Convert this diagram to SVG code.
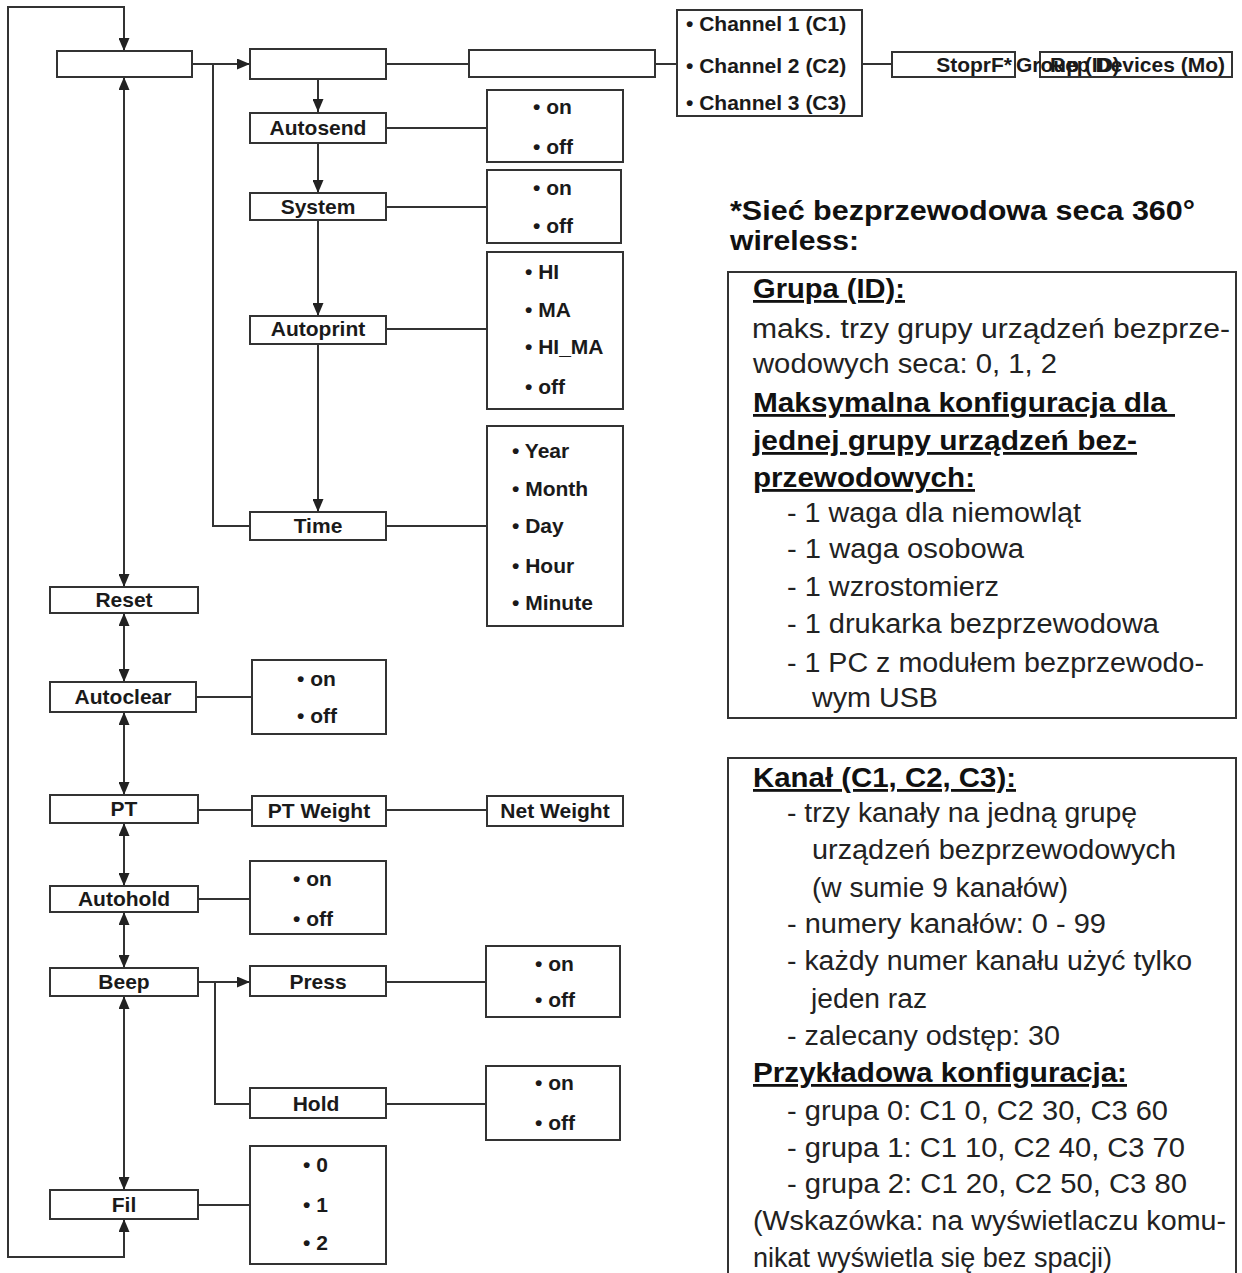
<svg xmlns="http://www.w3.org/2000/svg" width="1242" height="1273" viewBox="0 0 1242 1273">
<defs>
<marker id="ah" viewBox="0 0 13 11" refX="13" refY="5.5" markerWidth="13" markerHeight="11" markerUnits="userSpaceOnUse" orient="auto-start-reverse">
<path d="M0,0 L13,5.5 L0,11 z" fill="#222"/>
</marker>
<style>
.bx{fill:#fff;stroke:#333;stroke-width:2}
.ln{fill:none;stroke:#333;stroke-width:2}
.t{font-family:"Liberation Sans",Arial,sans-serif;font-weight:bold;font-size:21px;fill:#1a1a1a}
.m{text-anchor:middle}
.b{font-family:"Liberation Sans",Arial,sans-serif;font-size:27px;fill:#222}
.h{font-family:"Liberation Sans",Arial,sans-serif;font-weight:bold;font-size:28px;fill:#111}
.u{text-decoration:underline}
</style>
</defs>
<rect width="1242" height="1273" fill="#fff"/>

<g id="connectors">
<path class="ln" d="M124,1219 L124,1257 L8,1257 L8,7 L124,7 L124,51" marker-start="url(#ah)" marker-end="url(#ah)"/>
<path class="ln" d="M124,77 L124,587" marker-start="url(#ah)" marker-end="url(#ah)"/>
<path class="ln" d="M124,613 L124,682" marker-start="url(#ah)" marker-end="url(#ah)"/>
<path class="ln" d="M124,712 L124,795" marker-start="url(#ah)" marker-end="url(#ah)"/>
<path class="ln" d="M124,823 L124,886" marker-start="url(#ah)" marker-end="url(#ah)"/>
<path class="ln" d="M124,912 L124,968" marker-start="url(#ah)" marker-end="url(#ah)"/>
<path class="ln" d="M124,996 L124,1190" marker-start="url(#ah)" marker-end="url(#ah)"/>
<path class="ln" d="M192,64 L250,64" marker-end="url(#ah)"/>
<path class="ln" d="M213,64 L213,526 L250,526"/>
<path class="ln" d="M318,79 L318,112" marker-end="url(#ah)"/>
<path class="ln" d="M318,143 L318,193" marker-end="url(#ah)"/>
<path class="ln" d="M318,220 L318,316" marker-end="url(#ah)"/>
<path class="ln" d="M318,344 L318,512" marker-end="url(#ah)"/>
<path class="ln" d="M386,128 L487,128"/>
<path class="ln" d="M386,207 L487,207"/>
<path class="ln" d="M386,329 L487,329"/>
<path class="ln" d="M386,526 L487,526"/>
<path class="ln" d="M386,64 L469,64"/>
<path class="ln" d="M655,64 L677,64"/>
<path class="ln" d="M862,64 L892,64"/>
<path class="ln" d="M196,697 L252,697"/>
<path class="ln" d="M198,810 L252,810"/>
<path class="ln" d="M386,810 L487,810"/>
<path class="ln" d="M198,899 L250,899"/>
<path class="ln" d="M198,982 L250,982" marker-end="url(#ah)"/>
<path class="ln" d="M215,982 L215,1104 L250,1104"/>
<path class="ln" d="M386,982 L486,982"/>
<path class="ln" d="M386,1104 L486,1104"/>
<path class="ln" d="M198,1205 L250,1205"/>
</g>

<g id="n-root"><rect class="bx" x="57" y="51" width="135" height="26"/></g>
<g id="n-sub"><rect class="bx" x="250" y="49" width="136" height="30"/></g>
<g id="n-box3"><rect class="bx" x="469" y="50" width="186" height="27"/></g>
<g id="n-channels"><rect class="bx" x="677" y="10" width="185" height="106"/>
<text class="t" x="686" y="31">• Channel 1 (C1)</text>
<text class="t" x="686" y="73">• Channel 2 (C2)</text>
<text class="t" x="686" y="110">• Channel 3 (C3)</text></g>
<g id="n-stoprf"><rect class="bx" x="892" y="52" width="123" height="25"/>
<text class="t" x="1012" y="72" text-anchor="end" font-size="20">StoprF*</text></g>
<g id="n-group"><rect class="bx" x="1040" y="52" width="192" height="25"/>
<text class="t" x="1016" y="72" font-size="20">Group (ID)<tspan x="1050">Rep Devices (Mo)</tspan></text></g>

<g id="n-autosend"><rect class="bx" x="250" y="113" width="136" height="30"/><text class="t m" x="318" y="135">Autosend</text></g>
<g id="o-autosend"><rect class="bx" x="487" y="90" width="136" height="72"/>
<text class="t" x="533" y="114">• on</text><text class="t" x="533" y="154">• off</text></g>
<g id="n-system"><rect class="bx" x="250" y="193" width="136" height="27"/><text class="t m" x="318" y="214">System</text></g>
<g id="o-system"><rect class="bx" x="487" y="170" width="134" height="73"/>
<text class="t" x="533" y="195">• on</text><text class="t" x="533" y="233">• off</text></g>
<g id="n-autoprint"><rect class="bx" x="250" y="316" width="136" height="28"/><text class="t m" x="318" y="336">Autoprint</text></g>
<g id="o-autoprint"><rect class="bx" x="487" y="252" width="136" height="157"/>
<text class="t" x="525" y="279">• HI</text><text class="t" x="525" y="317">• MA</text>
<text class="t" x="525" y="354">• HI_MA</text><text class="t" x="525" y="394">• off</text></g>
<g id="n-time"><rect class="bx" x="250" y="512" width="136" height="28"/><text class="t m" x="318" y="533">Time</text></g>
<g id="o-time"><rect class="bx" x="487" y="426" width="136" height="200"/>
<text class="t" x="512" y="458">• Year</text><text class="t" x="512" y="496">• Month</text>
<text class="t" x="512" y="533">• Day</text><text class="t" x="512" y="573">• Hour</text>
<text class="t" x="512" y="610">• Minute</text></g>

<g id="n-reset"><rect class="bx" x="50" y="587" width="148" height="26"/><text class="t m" x="124" y="607">Reset</text></g>
<g id="n-autoclear"><rect class="bx" x="50" y="682" width="146" height="30"/><text class="t m" x="123" y="704">Autoclear</text></g>
<g id="o-autoclear"><rect class="bx" x="252" y="660" width="134" height="74"/>
<text class="t" x="297" y="686">• on</text><text class="t" x="297" y="723">• off</text></g>
<g id="n-pt"><rect class="bx" x="50" y="795" width="148" height="28"/><text class="t m" x="124" y="816">PT</text></g>
<g id="n-ptweight"><rect class="bx" x="252" y="796" width="134" height="30"/><text class="t m" x="319" y="818">PT Weight</text></g>
<g id="n-netweight"><rect class="bx" x="487" y="796" width="136" height="30"/><text class="t m" x="555" y="818">Net Weight</text></g>
<g id="n-autohold"><rect class="bx" x="50" y="886" width="148" height="26"/><text class="t m" x="124" y="906">Autohold</text></g>
<g id="o-autohold"><rect class="bx" x="250" y="861" width="136" height="73"/>
<text class="t" x="293" y="886">• on</text><text class="t" x="293" y="926">• off</text></g>
<g id="n-beep"><rect class="bx" x="50" y="968" width="148" height="28"/><text class="t m" x="124" y="989">Beep</text></g>
<g id="n-press"><rect class="bx" x="250" y="966" width="136" height="30"/><text class="t m" x="318" y="989">Press</text></g>
<g id="o-press"><rect class="bx" x="486" y="946" width="134" height="71"/>
<text class="t" x="535" y="971">• on</text><text class="t" x="535" y="1007">• off</text></g>
<g id="n-hold"><rect class="bx" x="250" y="1088" width="136" height="30"/><text class="t m" x="316" y="1111">Hold</text></g>
<g id="o-hold"><rect class="bx" x="486" y="1066" width="134" height="74"/>
<text class="t" x="535" y="1090">• on</text><text class="t" x="535" y="1130">• off</text></g>
<g id="n-fil"><rect class="bx" x="50" y="1190" width="148" height="29"/><text class="t m" x="124" y="1212">Fil</text></g>
<g id="o-fil"><rect class="bx" x="250" y="1146" width="136" height="118"/>
<text class="t" x="303" y="1172">• 0</text><text class="t" x="303" y="1212">• 1</text><text class="t" x="303" y="1250">• 2</text></g>

<g id="notes">
<text class="h" x="730" y="220" font-size="30" textLength="465" lengthAdjust="spacingAndGlyphs">*Sieć bezprzewodowa seca 360°</text>
<text class="h" x="730" y="250" font-size="30" textLength="129" lengthAdjust="spacingAndGlyphs">wireless:</text>

<rect x="728" y="272" width="508" height="446" fill="none" stroke="#333" stroke-width="2"/>
<text class="h u" x="753" y="298" textLength="152" lengthAdjust="spacingAndGlyphs">Grupa (ID):</text>
<text class="b" x="752" y="338" textLength="478" lengthAdjust="spacingAndGlyphs">maks. trzy grupy urządzeń bezprze-</text>
<text class="b" x="753" y="373" textLength="304" lengthAdjust="spacingAndGlyphs">wodowych seca: 0, 1, 2</text>
<text class="h u" x="753" y="412" textLength="422" lengthAdjust="spacingAndGlyphs" xml:space="preserve">Maksymalna konfiguracja dla </text>
<text class="h u" x="753" y="450" textLength="384" lengthAdjust="spacingAndGlyphs">jednej grupy urządzeń bez-</text>
<text class="h u" x="753" y="487" textLength="222" lengthAdjust="spacingAndGlyphs">przewodowych:</text>
<text class="b" x="787" y="522" textLength="294" lengthAdjust="spacingAndGlyphs">- 1 waga dla niemowląt</text>
<text class="b" x="787" y="558" textLength="237" lengthAdjust="spacingAndGlyphs">- 1 waga osobowa</text>
<text class="b" x="787" y="596" textLength="212" lengthAdjust="spacingAndGlyphs">- 1 wzrostomierz</text>
<text class="b" x="787" y="633" textLength="372" lengthAdjust="spacingAndGlyphs">- 1 drukarka bezprzewodowa</text>
<text class="b" x="787" y="672" textLength="417" lengthAdjust="spacingAndGlyphs">- 1 PC z modułem bezprzewodo-</text>
<text class="b" x="812" y="707" textLength="126" lengthAdjust="spacingAndGlyphs">wym USB</text>

<path d="M728,1273 L728,758 L1236,758 L1236,1273" fill="none" stroke="#333" stroke-width="2"/>
<text class="h u" x="753" y="787" textLength="263" lengthAdjust="spacingAndGlyphs">Kanał (C1, C2, C3):</text>
<text class="b" x="787" y="822" textLength="350" lengthAdjust="spacingAndGlyphs">- trzy kanały na jedną grupę</text>
<text class="b" x="812" y="859" textLength="364" lengthAdjust="spacingAndGlyphs">urządzeń bezprzewodowych</text>
<text class="b" x="812" y="897" textLength="256" lengthAdjust="spacingAndGlyphs">(w sumie 9 kanałów)</text>
<text class="b" x="787" y="933" textLength="319" lengthAdjust="spacingAndGlyphs">- numery kanałów: 0 - 99</text>
<text class="b" x="787" y="970" textLength="405" lengthAdjust="spacingAndGlyphs">- każdy numer kanału użyć tylko</text>
<text class="b" x="811" y="1008" textLength="116" lengthAdjust="spacingAndGlyphs">jeden raz</text>
<text class="b" x="787" y="1045" textLength="273" lengthAdjust="spacingAndGlyphs">- zalecany odstęp: 30</text>
<text class="h u" x="753" y="1082" textLength="374" lengthAdjust="spacingAndGlyphs">Przykładowa konfiguracja:</text>
<text class="b" x="787" y="1120" textLength="381" lengthAdjust="spacingAndGlyphs">- grupa 0: C1 0, C2 30, C3 60</text>
<text class="b" x="787" y="1157" textLength="398" lengthAdjust="spacingAndGlyphs">- grupa 1: C1 10, C2 40, C3 70</text>
<text class="b" x="787" y="1193" textLength="400" lengthAdjust="spacingAndGlyphs">- grupa 2: C1 20, C2 50, C3 80</text>
<text class="b" x="753" y="1230" textLength="473" lengthAdjust="spacingAndGlyphs">(Wskazówka: na wyświetlaczu komu-</text>
<text class="b" x="753" y="1267" textLength="359" lengthAdjust="spacingAndGlyphs">nikat wyświetla się bez spacji)</text>
</g>
</svg>
